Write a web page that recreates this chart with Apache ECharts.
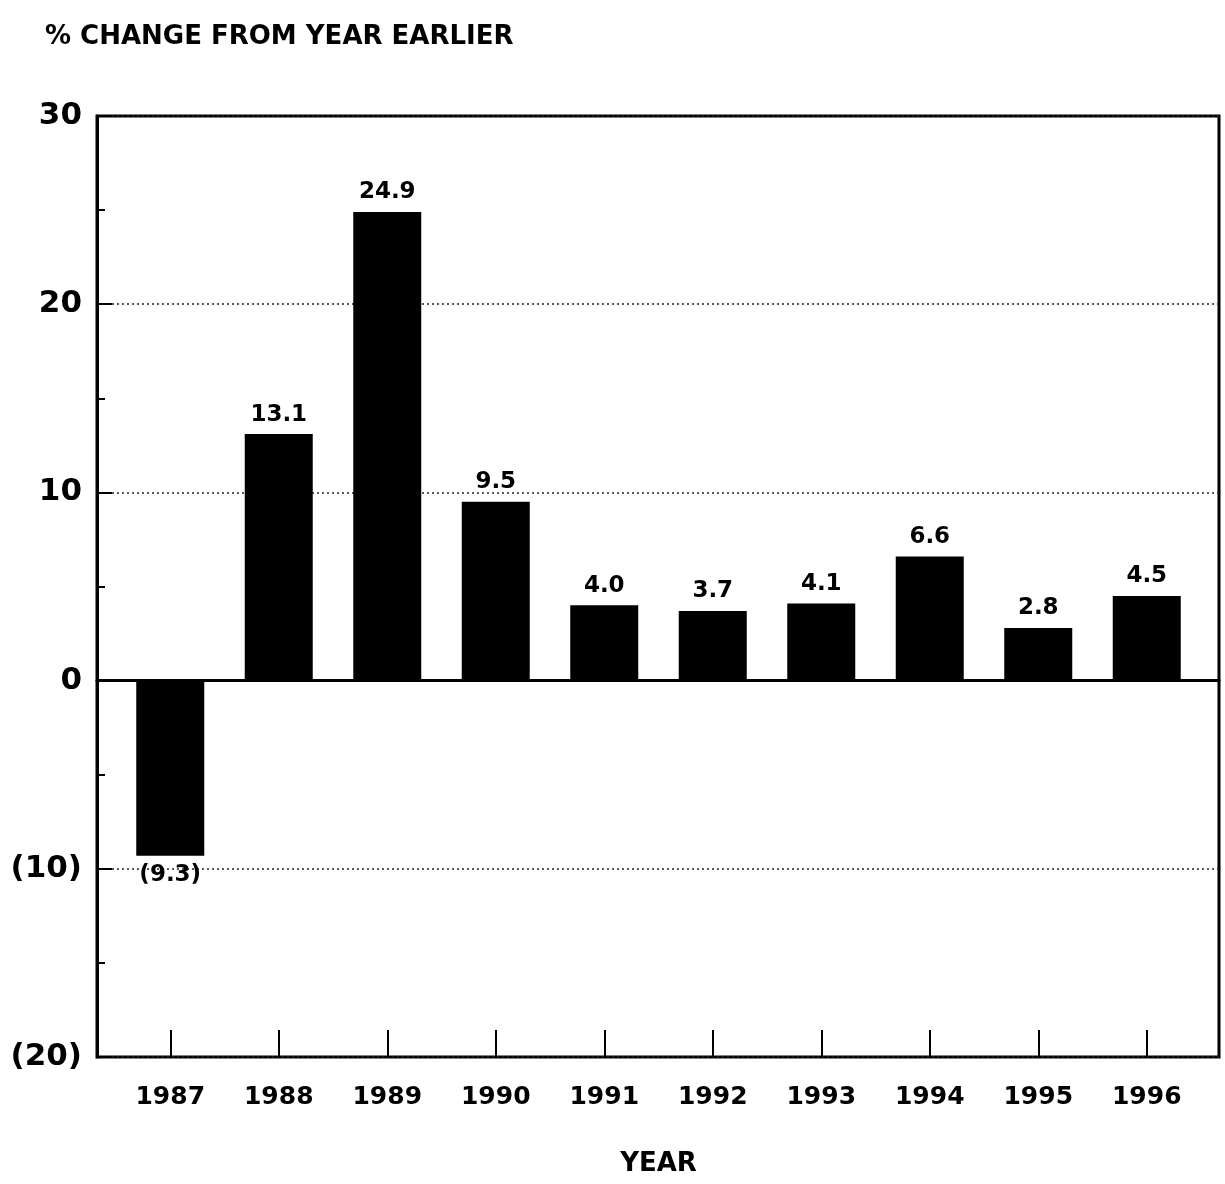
<!DOCTYPE html>
<html>
<head>
<meta charset="utf-8">
<script src="https://cdn.jsdelivr.net/npm/echarts@6/dist/echarts.min.js"></script>
<style>
  html, body { margin: 0; padding: 0; background: #fff; }
  #chart { width: 1225px; height: 1184px; }
</style>
</head>
<body>
<div id="chart"></div>
<script>
// Annual % change, 1987-1996
const years = ['1987', '1988', '1989', '1990', '1991', '1992', '1993', '1994', '1995', '1996'];
const changes = [-9.3, 13.1, 24.9, 9.5, 4.0, 3.7, 4.1, 6.6, 2.8, 4.5];
const yTicks = [-20, -10, 0, 10, 20, 30];

const FONT = 'DejaVu Sans';
const fmtParen = v => (v < 0 ? '(' + Math.abs(v) + ')' : String(v));
const fmtValue = v => (v < 0 ? '(' + Math.abs(v).toFixed(1) + ')' : v.toFixed(1));

const chart = echarts.init(document.getElementById('chart'), null, { renderer: 'canvas' });

const frame = { left: 97, right: 6, top: 116, bottom: 127 };

chart.setOption({
  backgroundColor: '#fff',
  animation: false,
  title: {
    text: '% CHANGE FROM YEAR EARLIER',
    left: 40,
    top: 19,
    textStyle: { fontFamily: FONT, fontWeight: 'bold', fontSize: 26, color: '#000' }
  },
  grid: [
    // outer frame with the value scale
    Object.assign({ show: true, borderColor: '#000', borderWidth: 3, backgroundColor: 'transparent' }, frame),
    // bar area, inset from the frame
    { left: 116, right: 24, top: frame.top, bottom: frame.bottom }
  ],
  xAxis: [
    {
      // zero line across the full frame
      gridIndex: 0,
      type: 'value',
      min: 0,
      max: 1,
      axisLine: { show: true, onZero: true, lineStyle: { color: '#000', width: 3 } },
      axisTick: { show: false },
      axisLabel: { show: false },
      splitLine: { show: false }
    },
    {
      gridIndex: 1,
      type: 'category',
      data: years,
      position: 'bottom',
      axisLine: { show: false, onZero: false },
      axisTick: { show: true, inside: true, length: 27, alignWithLabel: true, lineStyle: { color: '#000', width: 2 } },
      axisLabel: { margin: 28, fontFamily: FONT, fontWeight: 'bold', fontSize: 25, color: '#000' },
      name: 'YEAR',
      nameLocation: 'middle',
      nameGap: 94,
      nameTextStyle: { fontFamily: FONT, fontWeight: 'bold', fontSize: 26, color: '#000' }
    }
  ],
  yAxis: [
    {
      gridIndex: 0,
      type: 'value',
      min: yTicks[0],
      max: yTicks[yTicks.length - 1],
      interval: 10,
      axisLine: { show: true, lineStyle: { color: '#000', width: 3 } },
      axisTick: { show: true, inside: true, length: 15, lineStyle: { color: '#000', width: 2 } },
      minorTick: { show: true, splitNumber: 2, length: 8, lineStyle: { color: '#000', width: 2 } },
      axisLabel: {
        margin: 15,
        fontFamily: FONT,
        fontWeight: 'bold',
        fontSize: 31,
        color: '#000',
        formatter: fmtParen
      },
      splitLine: { show: true, lineStyle: { color: '#222', width: 1.5, type: [2, 3] } }
    },
    {
      gridIndex: 1,
      type: 'value',
      min: yTicks[0],
      max: yTicks[yTicks.length - 1],
      interval: 10,
      show: false,
      splitLine: { show: false }
    }
  ],
  series: [
    {
      type: 'bar',
      xAxisIndex: 1,
      yAxisIndex: 1,
      barWidth: 68,
      itemStyle: { color: '#000' },
      data: changes.map(v => ({
        value: v,
        label: { position: v < 0 ? 'bottom' : 'top' }
      })),
      label: {
        show: true,
        distance: 8,
        fontFamily: FONT,
        fontWeight: 'bold',
        fontSize: 23,
        color: '#000',
        formatter: p => fmtValue(p.value)
      },
      z: 1
    }
  ]
});
</script>
</body>
</html>
